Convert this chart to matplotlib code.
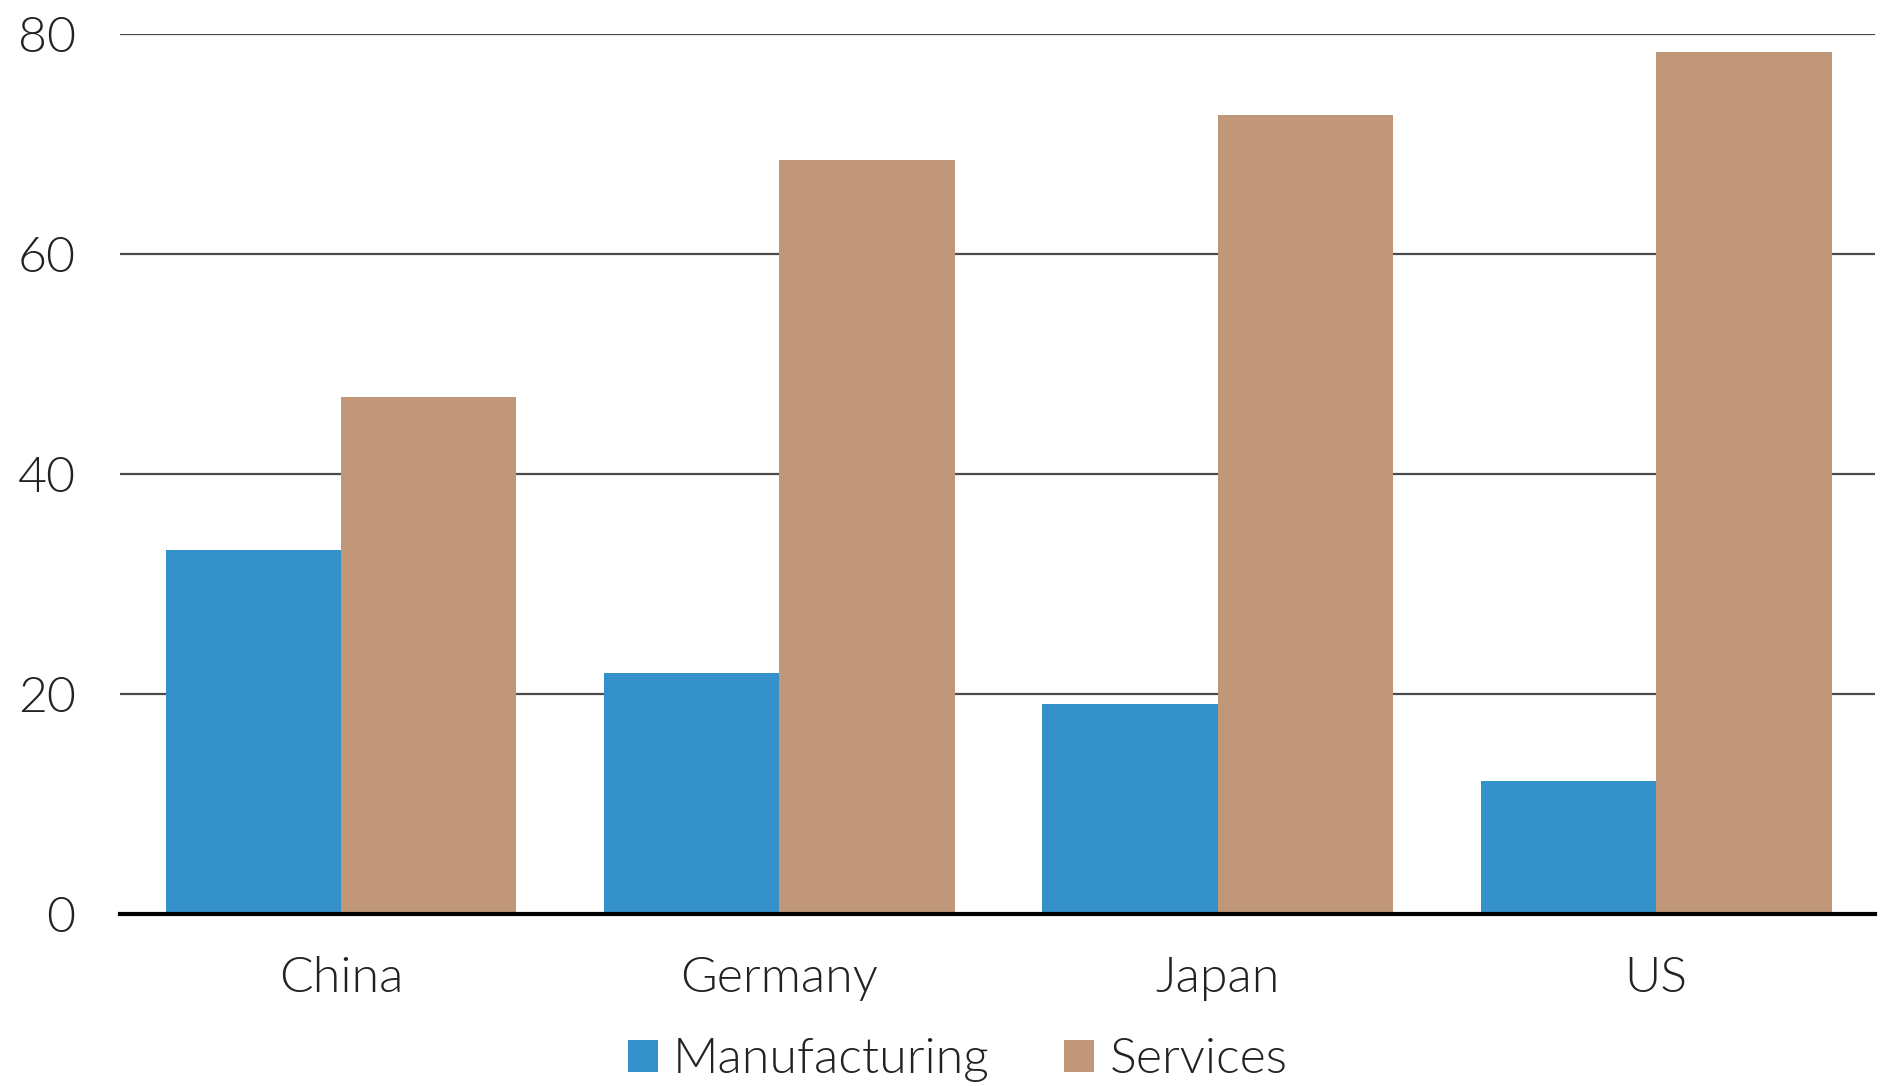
import matplotlib
matplotlib.use("Agg")
import matplotlib.pyplot as plt
import numpy as np

categories = ["China", "Germany", "Japan", "US"]
manufacturing = [33.1, 21.9, 19.1, 12.1]
services = [47.0, 68.5, 72.6, 78.3]
yticks = [0, 20, 40, 60, 80]

plt.rcParams['font.family'] = ['Lato', 'DejaVu Sans']
plt.rcParams['font.weight'] = 300

fig = plt.figure(figsize=(18.81, 10.86), dpi=100)
ax = fig.add_axes([0.0638, 0.158, 0.9332, 0.811])

x = np.arange(len(categories))
w = 0.4
ax.bar(x - w/2, manufacturing, w, color="#3591CA", label="Manufacturing", zorder=2)
ax.bar(x + w/2, services, w, color="#C09778", label="Services", zorder=2)

ax.set_xlim(-0.504, 3.50)
ax.set_ylim(0, 80)
ax.set_yticks(yticks)
ax.set_xticks(x)
ax.set_xticklabels(categories)
ax.tick_params(axis='both', length=0, labelsize=36, colors="#222222")
ax.tick_params(axis='y', pad=32)
ax.tick_params(axis='x', pad=30)
for s in ["top", "right", "left"]:
    ax.spines[s].set_visible(False)
ax.spines["bottom"].set_linewidth(3)
ax.spines["bottom"].set_color("black")
ax.spines["bottom"].set_zorder(3)
ax.yaxis.grid(True, color="#4a4a4a", linewidth=1.6, zorder=1)
ax.set_axisbelow(True)

fig.legend(loc="center", bbox_to_anchor=(0.509, 0.024), ncol=2, frameon=False,
           fontsize=36, handlelength=0.6, handleheight=0.6, handletextpad=0.3,
           columnspacing=1.5, labelcolor="#222222")

fig.savefig("out.png", dpi=100)
